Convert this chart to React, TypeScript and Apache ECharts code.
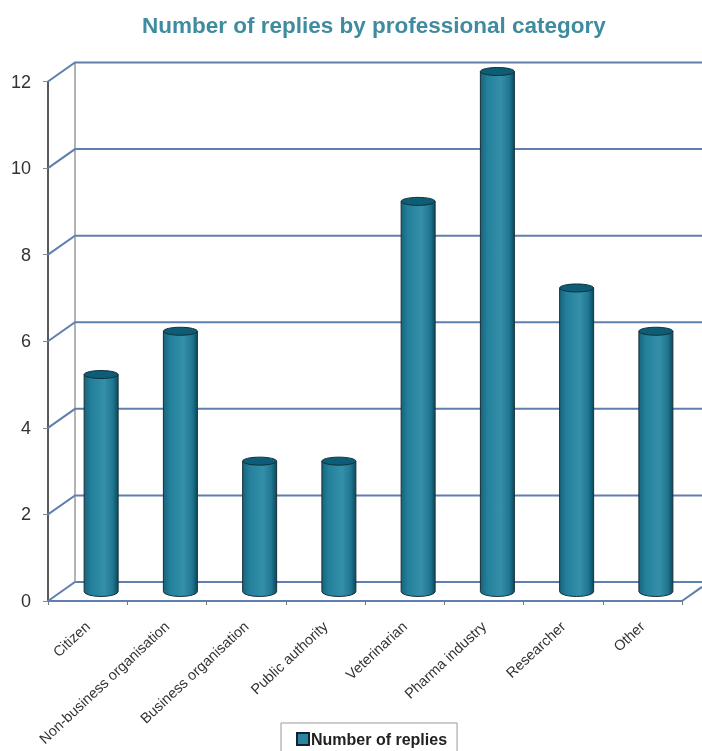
import React, { useEffect, useRef } from "react";
import * as echarts from "echarts";

const categories = ["Citizen", "Non-business organisation", "Business organisation", "Public authority", "Veterinarian", "Pharma industry", "Researcher", "Other"];
const replies = [5, 6, 3, 3, 9, 12, 7, 6];
const yTicks = [0, 2, 4, 6, 8, 10, 12];
const seriesName = "Number of replies";
const titleText = "Number of replies by professional category";

const DX = 27, DY = 19, BAR_W = 34, RY = 5;
const WALL = "#5f7fae";
const FONT = "Liberation Sans, Arial, sans-serif";

export default function App() {
  const ref = useRef<HTMLDivElement>(null);
  useEffect(() => {
    const chart = echarts.init(ref.current!, null, { renderer: "svg" });
    chart.setOption({
      animation: false,
      title: {
        text: titleText, left: 142, top: 14, padding: 0,
        textStyle: { color: "#3f8b9f", fontSize: 22.5, fontWeight: "bold", fontFamily: FONT },
      },
      legend: {
        left: 281, top: 723, padding: [8, 10, 20, 15], itemWidth: 12, itemHeight: 12, itemGap: 0,
        borderColor: "#9a9a9a", borderWidth: 1, icon: "rect",
        data: [seriesName],
        textStyle: { color: "#222", fontSize: 16, fontWeight: "bold", fontFamily: FONT, padding: [0, 0, 0, -3] },
      },
      grid: { left: 48, right: 20, top: 81.5, bottom: 150 },
      xAxis: {
        type: "category", data: categories,
        axisLine: { lineStyle: { color: WALL, width: 2 } },
        axisTick: { show: true, length: 4, lineStyle: { color: "#777" } },
        axisLabel: { rotate: 43, interval: 0, margin: 23, fontSize: 14.5, color: "#333", fontFamily: FONT },
      },
      yAxis: {
        type: "value", min: 0, max: 12, interval: 2,
        axisLine: { show: true, lineStyle: { color: "#222", width: 1.5 } },
        axisTick: { show: true, length: 5, lineStyle: { color: "#888" } },
        axisLabel: { fontSize: 18, color: "#333", margin: 17, fontFamily: FONT },
        splitLine: { show: false },
      },
      series: [
        {
          type: "custom", silent: true, z: 1,
          data: yTicks.map((v) => [0, v]),
          encode: { x: 0, y: 1 },
          renderItem: (params: any, api: any) => {
            const cs = params.coordSys;
            const v = api.value(1);
            const y = api.coord([0, v])[1];
            const x0 = cs.x, bx = x0 + DX, by = y - DY, w = api.getWidth();
            const children: any[] = [
              { type: "polyline", shape: { points: [[x0, y], [bx, by], [w, by]] }, style: { fill: "none", stroke: WALL, lineWidth: 2 } },
            ];
            if (v === 0) {
              const rx = cs.x + cs.width;
              children.push({ type: "line", shape: { x1: bx, y1: by, x2: bx, y2: api.coord([0, 12])[1] - DY }, style: { stroke: "#9a9a9a", lineWidth: 1.5 } });
              children.push({ type: "line", shape: { x1: rx, y1: y, x2: w, y2: y - (w - rx) * DY / DX }, style: { stroke: WALL, lineWidth: 2 } });
            }
            return { type: "group", children };
          },
        },
        {
          type: "custom", name: seriesName, z: 2,
          itemStyle: { color: "#2a84a0", borderColor: "#123", borderWidth: 1 },
          data: replies.map((v, i) => [i, v]),
          encode: { x: 0, y: 1 },
          renderItem: (_p: any, api: any) => {
            const top = api.coord([api.value(0), api.value(1)]);
            const bot = api.coord([api.value(0), 0]);
            const cx = top[0] + DX / 2, hw = BAR_W / 2;
            const ty = top[1] - DY / 2 - 0.5, by = bot[1] - DY / 2;
            const l = cx - hw, r = cx + hw;
            const body = new echarts.graphic.LinearGradient(0, 0, 1, 0, [
              { offset: 0, color: "#17647b" },
              { offset: 0.2, color: "#23809b" },
              { offset: 0.6, color: "#358fa9" },
              { offset: 0.85, color: "#1f7690" },
              { offset: 1, color: "#0c4a5e" },
            ]);
            return {
              type: "group",
              children: [
                {
                  type: "path",
                  shape: { pathData: `M${l} ${ty}L${l} ${by}A${hw} ${RY} 0 0 0 ${r} ${by}L${r} ${ty}Z` },
                  style: { fill: body, stroke: "#16303a", lineWidth: 1 },
                },
                {
                  type: "ellipse",
                  shape: { cx, cy: ty, rx: hw, ry: RY - 1 },
                  style: { fill: "#0e5d76", stroke: "#12303a", lineWidth: 1 },
                },
              ],
            };
          },
        },
      ],
    });
    return () => chart.dispose();
  }, []);
  return <div ref={ref} style={{ position: "fixed", left: 0, top: 0, width: 702, height: 751 }} />;
}
